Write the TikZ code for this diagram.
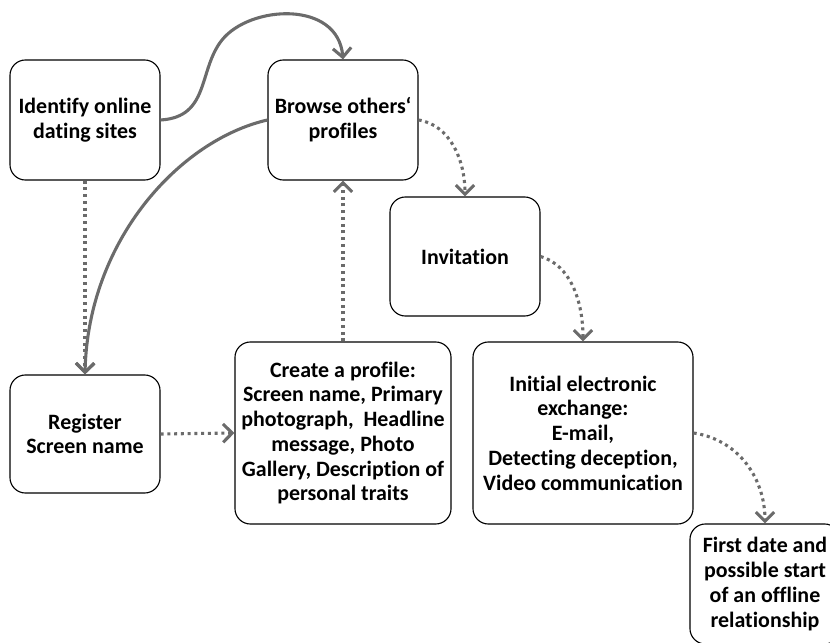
\documentclass[tikz,border=0pt]{standalone}
\usepackage{fontspec}
\setmainfont[Ligatures=NoCommon]{Carlito}
\usetikzlibrary{arrows.meta}
\begin{document}
\begin{tikzpicture}[x=0.025cm, y=-0.025cm,
  box/.style={draw, rounded corners=11pt, line width=0.8pt, align=center,
    inner sep=0pt, font=\bfseries\fontsize{15.6}{17.6}\selectfont},
  flow/.style={draw=black!58, line width=2.2pt,
    -{Straight Barb[length=6.5pt,width=13pt]}},
  dots/.style={flow, dash pattern=on 2.2pt off 2.6pt}]
  \useasboundingbox (0,0) rectangle (830,643);
  \node[box, minimum width=3.75cm, minimum height=3cm] (identify) at (85,120) {Identify online\\dating sites};
  \node[box, minimum width=3.75cm, minimum height=3cm] (browse) at (343,120) {Browse others‘\\profiles};
  \node[box, minimum width=3.75cm, minimum height=2.975cm] (invite) at (465,256.5) {Invitation};
  \node[box, minimum width=3.75cm, minimum height=2.95cm] (register) at (85,434) {Register\\Screen name};
  \node[box, minimum width=5.4cm, minimum height=4.55cm] (profile) at (343,433) {Create a profile:\\Screen name, Primary\\photograph,\ \ Headline\\message, Photo\\Gallery, Description of\\personal traits};
  \node[box, minimum width=5.5cm, minimum height=4.55cm] (exchange) at (583,433) {Initial electronic\\exchange:\\E-mail,\\Detecting deception,\\Video communication};
  \node[box, minimum width=3.75cm, minimum height=3cm] (firstdate) at (765,584) {First date and\\possible start\\of an offline\\relationship};
  \draw[flow] (identify.east) .. controls (210,117) and (198,70) .. (222,40)
    .. controls (250,5) and (338,0) .. (browse.north);
  \draw[flow] (browse.west) .. controls (180,140) and (88,240) .. (register.north);
  \draw[dots] (identify.south) -- (register.north);
  \draw[dots] (register.east) -- (profile.west);
  \draw[dots] (profile.north) -- (browse.south);
  \draw[dots] (browse.east) .. controls (450,125) and (465,160) .. (invite.north);
  \draw[dots] (invite.east) .. controls (570,265) and (583,300) .. (exchange.north);
  \draw[dots] (exchange.east) .. controls (740,440) and (765,480) .. (firstdate.north);
\end{tikzpicture}
\end{document}
